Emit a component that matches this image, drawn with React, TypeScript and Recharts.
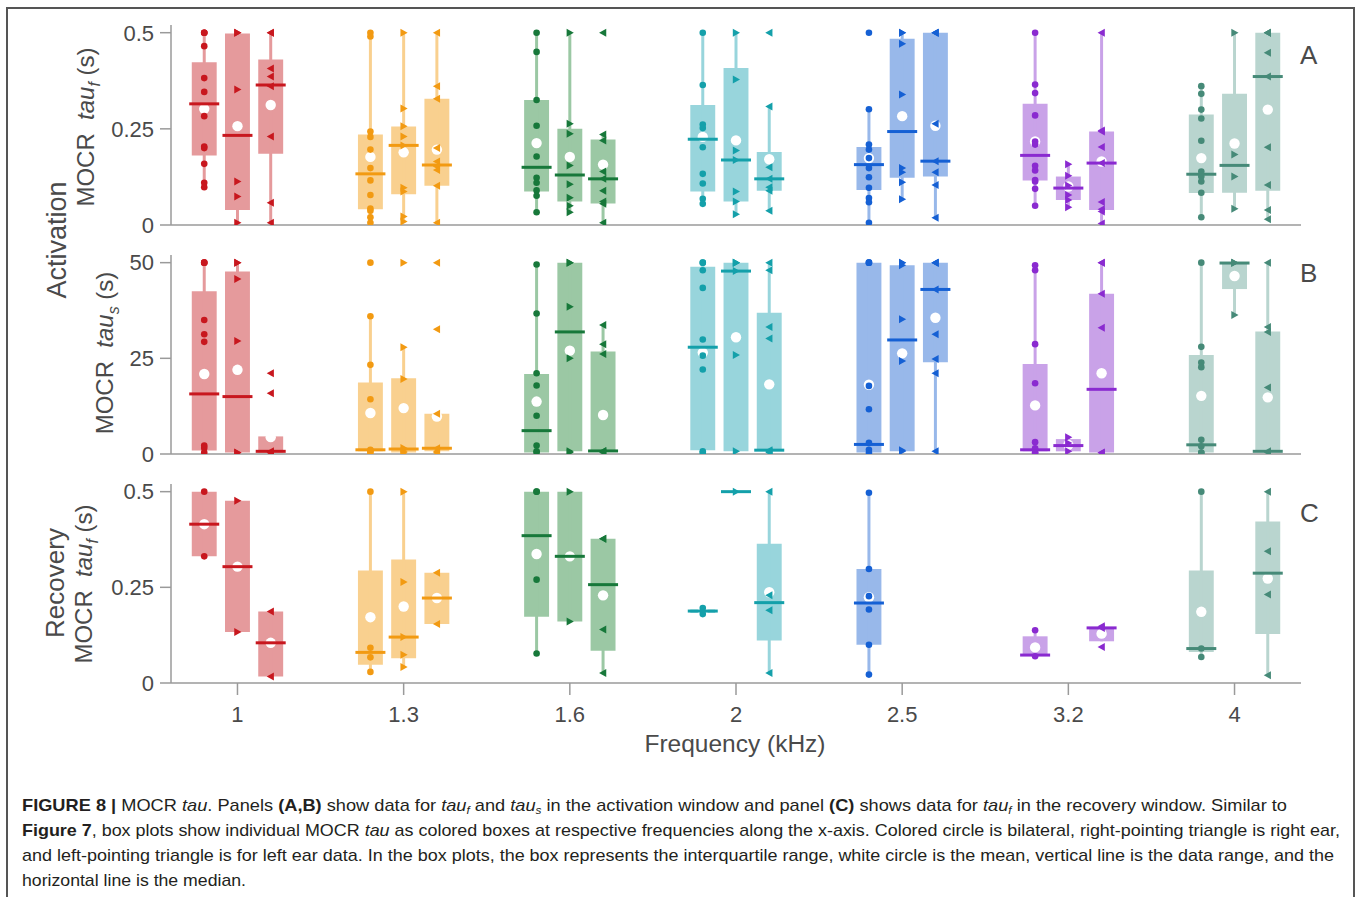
import React from 'react';
import { ComposedChart, XAxis, YAxis, Scatter, ReferenceArea, ReferenceLine } from 'recharts';

// frequencies along the x-axis (kHz)
const FREQS = ['1', '1.3', '1.6', '2', '2.5', '3.2', '4'];
const FREQ_IDX = [0, 1, 2, 3, 4, 5, 6];

// marker / median colour and box colour for each frequency
const MARK_COLORS = ['#c8171e', '#f29a12', '#17783a', '#14a0aa', '#1560d4', '#8a2ad0', '#468a78'];
const BOX_COLORS = ['#e59a9c', '#f9d08f', '#9bc8a4', '#98d5dc', '#98b8ea', '#c9a2e8', '#b9d5cf'];

// bilateral (circle), right ear (▶), left ear (◀)
const SIDES = ['bilateral', 'right', 'left'];

// box stats per frequency: [whisker lo, q1, median, q3, whisker hi, mean]
type Stat = number[] | null;

// ---- A: activation tau_f (s)
const A_BIL: Stat[] = [
  [0.1, 0.181, 0.315, 0.423, 0.5, 0.302],
  [0.006, 0.041, 0.133, 0.235, 0.5, 0.177],
  [0.033, 0.087, 0.15, 0.325, 0.5, 0.213],
  [0.055, 0.087, 0.223, 0.312, 0.5, 0.229],
  [0.006, 0.091, 0.157, 0.203, 0.301, 0.174],
  [0.05, 0.116, 0.181, 0.315, 0.5, 0.217],
  [0.02, 0.083, 0.132, 0.287, 0.361, 0.174],
];
const A_RIGHT: Stat[] = [
  [0.006, 0.039, 0.233, 0.498, 0.5, 0.257],
  [0.006, 0.08, 0.207, 0.256, 0.5, 0.189],
  [0.03, 0.061, 0.13, 0.25, 0.5, 0.177],
  [0.028, 0.061, 0.169, 0.408, 0.5, 0.22],
  [0.067, 0.123, 0.243, 0.484, 0.5, 0.283],
  [0.046, 0.065, 0.096, 0.126, 0.158, 0.1],
  [0.042, 0.084, 0.155, 0.341, 0.5, 0.212],
];
const A_LEFT: Stat[] = [
  [0.006, 0.185, 0.364, 0.43, 0.5, 0.312],
  [0.006, 0.102, 0.156, 0.328, 0.5, 0.196],
  [0.006, 0.056, 0.12, 0.222, 0.235, 0.157],
  [0.037, 0.089, 0.12, 0.19, 0.308, 0.171],
  [0.019, 0.126, 0.166, 0.5, 0.5, 0.258],
  [0.004, 0.039, 0.161, 0.243, 0.5, 0.165],
  [0.015, 0.089, 0.386, 0.5, 0.5, 0.3],
];
const A_BIL_PTS = [
  [0.5, 0.5, 0.5, 0.465, 0.382, 0.346, 0.283, 0.204, 0.2, 0.159, 0.11, 0.098],
  [0.5, 0.49, 0.243, 0.229, 0.196, 0.148, 0.116, 0.078, 0.043, 0.037, 0.02, 0.006],
  [0.5, 0.45, 0.325, 0.258, 0.178, 0.123, 0.11, 0.09, 0.076, 0.033],
  [0.5, 0.364, 0.261, 0.252, 0.202, 0.133, 0.108, 0.068, 0.055],
  [0.5, 0.301, 0.209, 0.196, 0.174, 0.148, 0.124, 0.097, 0.07, 0.059, 0.006],
  [0.5, 0.365, 0.343, 0.285, 0.217, 0.209, 0.154, 0.142, 0.117, 0.113, 0.094, 0.05],
  [0.361, 0.341, 0.3, 0.277, 0.219, 0.139, 0.126, 0.113, 0.084, 0.02],
];
const A_RIGHT_PTS = [
  [0.5, 0.5, 0.352, 0.113, 0.074, 0.006],
  [0.5, 0.303, 0.257, 0.23, 0.207, 0.097, 0.087, 0.022, 0.009],
  [0.5, 0.263, 0.237, 0.155, 0.106, 0.071, 0.05, 0.033],
  [0.5, 0.378, 0.194, 0.169, 0.087, 0.061, 0.028],
  [0.5, 0.5, 0.471, 0.339, 0.148, 0.137, 0.111, 0.067],
  [0.158, 0.128, 0.103, 0.078, 0.065, 0.046],
  [0.5, 0.183, 0.126, 0.042],
];
const A_LEFT_PTS = [
  [0.5, 0.5, 0.407, 0.386, 0.361, 0.23, 0.058, 0.006],
  [0.5, 0.361, 0.328, 0.2, 0.165, 0.152, 0.143, 0.102, 0.006],
  [0.5, 0.235, 0.22, 0.139, 0.12, 0.089, 0.061, 0.055, 0.006],
  [0.5, 0.308, 0.15, 0.12, 0.098, 0.089, 0.037],
  [0.5, 0.5, 0.5, 0.263, 0.166, 0.137, 0.104, 0.019],
  [0.5, 0.246, 0.243, 0.203, 0.161, 0.06, 0.041, 0.035, 0.004],
  [0.5, 0.5, 0.5, 0.448, 0.386, 0.202, 0.104, 0.039, 0.015],
];

// ---- B: activation tau_s (s)
const B_BIL: Stat[] = [
  [0.4, 0.9, 15.7, 42.5, 50, 20.9],
  [0.3, 0.7, 1.1, 18.7, 36, 10.7],
  [0.4, 0.4, 6.1, 20.9, 49.5, 13.7],
  [0.3, 1.0, 27.9, 48.9, 50, 26.5],
  [0.3, 0.4, 2.5, 50, 50, 18.1],
  [0.3, 0.7, 1.1, 23.5, 49.3, 12.7],
  [0.3, 0.4, 2.4, 25.9, 50, 15.2],
];
const B_RIGHT: Stat[] = [
  [0.4, 0.4, 15.0, 47.7, 50, 22],
  [0.3, 0.4, 1.3, 19.8, 27.9, 12],
  [0.4, 0.7, 31.9, 50, 50, 27],
  [0.4, 0.7, 47.8, 50, 50, 30.5],
  [0.4, 0.7, 29.8, 49.3, 50, 26.3],
  [0.7, 0.7, 2.2, 3.9, 4.4, 2.4],
  [36.3, 43.1, 49.9, 50, 50, 46.5],
];
const B_LEFT: Stat[] = [
  [0.4, 0.4, 0.7, 4.6, 4.6, 4.4],
  [0.3, 0.7, 1.5, 10.5, 10.5, 9.8],
  [0.4, 0.7, 0.8, 26.8, 33.7, 10.2],
  [0.4, 1.0, 1.0, 36.9, 50, 18.2],
  [0.7, 24, 43, 50, 50, 35.6],
  [0.3, 0.4, 16.9, 41.9, 50, 21.1],
  [0.4, 0.7, 0.7, 32, 50, 14.8],
];
const B_BIL_PTS = [
  [50, 50, 50, 35, 31.3, 29.3, 2.2, 1.6, 0.4],
  [50, 36, 23.3, 14.3, 1.1, 0.7, 0.3],
  [49.5, 36.7, 21.1, 17.9, 10, 2.2, 0.7, 0.4],
  [50, 50, 48, 43.4, 29.9, 25.7, 22.1, 0.7, 0.3],
  [50, 50, 50, 17.8, 11.7, 2.9, 1.1, 0.3],
  [49.3, 48, 28.7, 18.5, 3.1, 1.5, 0.4, 0.3],
  [50, 28, 23.9, 22.7, 3.7, 2, 0.4, 0.3],
];
const B_RIGHT_PTS = [
  [50, 50, 45.7, 29.5, 0.4, 0.3],
  [50, 27.9, 19.6, 1.6, 0.7, 0.3],
  [50, 50, 38.5, 25, 0.7, 0.4],
  [50, 50, 50, 47.8, 25.9, 0.7],
  [50, 50, 49.3, 35.2, 24.3, 1, 0.7],
  [4.4, 2.9, 0.7],
  [50, 50, 50, 36.3],
];
const B_LEFT_PTS = [
  [21.1, 15.9, 0.7, 0.4, 0.3],
  [50, 32.6, 10.5, 1.5, 0.7, 0.3],
  [33.7, 28.7, 26.1, 0.8, 0.7, 0.4],
  [50, 48, 33.2, 30.2, 1, 0.7, 0.4],
  [50, 50, 50, 43, 31.3, 24.8, 21.1, 0.7],
  [50, 50, 41.9, 33, 0.4, 0.3],
  [50, 33.2, 31.9, 17.4, 0.7, 0.4],
];

// ---- C: recovery tau_f (s)
const C_BIL: Stat[] = [
  [0.331, 0.331, 0.415, 0.5, 0.5, 0.415],
  [0.029, 0.048, 0.08, 0.294, 0.5, 0.172],
  [0.077, 0.173, 0.385, 0.5, 0.5, 0.337],
  [0.18, 0.183, 0.188, 0.192, 0.196, 0.188],
  [0.022, 0.1, 0.209, 0.298, 0.497, 0.224],
  [0.07, 0.072, 0.073, 0.122, 0.138, 0.093],
  [0.068, 0.081, 0.09, 0.294, 0.5, 0.186],
];
const C_RIGHT: Stat[] = [
  [0.133, 0.133, 0.304, 0.476, 0.476, 0.304],
  [0.042, 0.065, 0.12, 0.323, 0.5, 0.2],
  [0.161, 0.161, 0.331, 0.5, 0.5, 0.331],
  [0.5, 0.5, 0.5, 0.5, 0.5, 0.5],
  null,
  null,
  null,
];
const C_LEFT: Stat[] = [
  [0.017, 0.017, 0.105, 0.187, 0.187, 0.105],
  [0.154, 0.154, 0.222, 0.288, 0.288, 0.222],
  [0.026, 0.084, 0.257, 0.377, 0.377, 0.229],
  [0.026, 0.111, 0.21, 0.364, 0.5, 0.237],
  null,
  [0.109, 0.109, 0.144, 0.144, 0.148, 0.129],
  [0.02, 0.128, 0.287, 0.422, 0.5, 0.273],
];
const C_BIL_PTS = [
  [0.5, 0.331],
  [0.5, 0.092, 0.067, 0.029],
  [0.5, 0.5, 0.27, 0.077],
  [0.196, 0.18],
  [0.497, 0.298, 0.227, 0.192, 0.1, 0.022],
  [0.138, 0.07],
  [0.5, 0.09, 0.068],
];
const C_RIGHT_PTS = [
  [0.476, 0.133],
  [0.5, 0.264, 0.12, 0.074, 0.042],
  [0.5, 0.161],
  [0.5],
  [],
  [],
  [],
];
const C_LEFT_PTS = [
  [0.187, 0.017],
  [0.288, 0.154],
  [0.377, 0.377, 0.14, 0.026],
  [0.5, 0.229, 0.19, 0.026],
  [],
  [0.148, 0.144, 0.094],
  [0.5, 0.344, 0.231, 0.02],
];

const TAU_TICKS = [0, 0.25, 0.5];
const TAU_S_TICKS = [0, 25, 50];

const SIDE_OFFSET = [-0.2, 0, 0.2];
const BOX_HALF = 0.075;
const FONT = "'Liberation Sans', Arial, sans-serif";
const AXIS_GREY = '#9a9a9a';
const TEXT_GREY = '#4a4a4a';

const markerShape = (side: number, color: string) => (p: any) => {
  const { cx, cy } = p;
  if (cx == null || cy == null) return <g />;
  if (side === 0) return <circle cx={cx} cy={cy} r={3.3} fill={color} />;
  if (side === 1)
    return <polygon points={`${cx - 3.2},${cy - 4} ${cx + 4},${cy} ${cx - 3.2},${cy + 4}`} fill={color} />;
  return <polygon points={`${cx + 3.2},${cy - 4} ${cx - 4},${cy} ${cx + 3.2},${cy + 4}`} fill={color} />;
};

// median drawn as a short horizontal bar marker centred on the box
const medianShape = (color: string) => (p: any) =>
  p.cx == null ? <g /> : <line x1={p.cx - 15} x2={p.cx + 15} y1={p.cy} y2={p.cy} stroke={color} strokeWidth={3} />;

const meanShape = (p: any) =>
  p.cx == null ? <g /> : <circle cx={p.cx} cy={p.cy} r={5.2} fill="#ffffff" />;

function Panel(props: {
  top: number;
  height: number;
  marginTop: number;
  axisH: number;
  domain: number[];
  yTicks: number[];
  stats: Stat[][];
  points: number[][][];
  showX: boolean;
}) {
  const { top, height, marginTop, axisH, domain, yTicks, stats, points, showX } = props;
  const areas: React.ReactNode[] = [];
  const whiskers: React.ReactNode[] = [];
  const means: { x: number; y: number }[] = [];
  const medians: { x: number; y: number }[][] = FREQ_IDX.map(() => []);
  const scatters: React.ReactNode[] = [];

  SIDES.forEach((side, s) => {
    FREQ_IDX.forEach((fi) => {
      const cx = fi + SIDE_OFFSET[s];
      const st = stats[s][fi];
      if (st) {
        const [lo, q1, med, q3, hi, mean] = st;
        if (q3 > q1)
          areas.push(
            <ReferenceArea
              key={`a${s}${fi}`}
              x1={cx - BOX_HALF}
              x2={cx + BOX_HALF}
              y1={q1}
              y2={q3}
              fill={BOX_COLORS[fi]}
              fillOpacity={1}
              stroke="none"
              ifOverflow="visible"
            />
          );
        if (hi > lo)
          whiskers.push(
            <ReferenceLine
              key={`w${s}${fi}`}
              segment={[{ x: cx, y: lo }, { x: cx, y: hi }]}
              stroke={BOX_COLORS[fi]}
              strokeWidth={3}
              ifOverflow="visible"
            />
          );
        medians[fi].push({ x: cx, y: med });
        means.push({ x: cx, y: mean });
      }
      const pts = points[s][fi];
      if (pts.length)
        scatters.push(
          <Scatter
            key={`p${s}${fi}`}
            data={pts.map((y) => ({ x: cx, y }))}
            shape={markerShape(s, MARK_COLORS[fi])}
            isAnimationActive={false}
          />
        );
    });
  });

  return (
    <div style={{ position: 'absolute', left: 0, top }}>
      <ComposedChart width={1358} height={height} margin={{ top: marginTop, right: 57, bottom: 0, left: 111 }}>
        <XAxis
          type="number"
          dataKey="x"
          domain={[-0.4, 6.4]}
          ticks={FREQ_IDX}
          interval={0}
          allowDataOverflow
          height={axisH}
          stroke={AXIS_GREY}
          strokeWidth={1.5}
          tickSize={12}
          tickMargin={11}
          tickFormatter={(v: number) => FREQS[v]}
          tick={showX ? { fill: TEXT_GREY, fontSize: 22, fontFamily: FONT } : false}
        />
        <YAxis
          type="number"
          dataKey="y"
          domain={domain}
          ticks={yTicks}
          allowDataOverflow
          width={60}
          stroke={AXIS_GREY}
          strokeWidth={1.5}
          tickSize={11}
          tickMargin={6}
          tick={{ fill: TEXT_GREY, fontSize: 22, fontFamily: FONT }}
        />
        {areas}
        {whiskers}
        <Scatter data={means} shape={meanShape} isAnimationActive={false} />
        {FREQ_IDX.map((fi) => (
          <Scatter key={`m${fi}`} data={medians[fi]} shape={medianShape(MARK_COLORS[fi])} isAnimationActive={false} />
        ))}
        {scatters}
      </ComposedChart>
    </div>
  );
}

type Seg = { t: string; b?: boolean; i?: boolean; sub?: boolean };

const CAPTION: Seg[][] = [
  [
    { t: 'FIGURE 8 |', b: true },
    { t: ' MOCR ' },
    { t: 'tau', i: true },
    { t: '. Panels ' },
    { t: '(A,B)', b: true },
    { t: ' show data for ' },
    { t: 'tau', i: true },
    { t: 'f', i: true, sub: true },
    { t: ' and ' },
    { t: 'tau', i: true },
    { t: 's', i: true, sub: true },
    { t: ' in the activation window and panel ' },
    { t: '(C)', b: true },
    { t: ' shows data for ' },
    { t: 'tau', i: true },
    { t: 'f', i: true, sub: true },
    { t: ' in the recovery window. Similar to' },
  ],
  [
    { t: 'Figure 7', b: true },
    { t: ', box plots show individual MOCR ' },
    { t: 'tau', i: true },
    { t: ' as colored boxes at respective frequencies along the x-axis. Colored circle is bilateral, right-pointing triangle is right ear,' },
  ],
  [
    {
      t: 'and left-pointing triangle is for left ear data. In the box plots, the box represents the interquartile range, white circle is the mean, vertical line is the data range, and the',
    },
  ],
  [{ t: 'horizontal line is the median.' }],
];
const CAPTION_WIDTHS = [1265, 1318, 1312, 224];

function segSpans(segs: Seg[], subSize: number, subDy: number) {
  let shifted = false;
  return segs.map((sg, k) => {
    let dy = 0;
    if (sg.sub && !shifted) {
      dy = subDy;
      shifted = true;
    } else if (!sg.sub && shifted) {
      dy = -subDy;
      shifted = false;
    }
    return (
      <tspan
        key={k}
        dy={dy || undefined}
        fontWeight={sg.b ? 'bold' : undefined}
        fontStyle={sg.i ? 'italic' : undefined}
        fontSize={sg.sub ? subSize : undefined}
      >
        {sg.t}
      </tspan>
    );
  });
}

function AxisTitle({ x, y, sub }: { x: number; y: number; sub: string }) {
  return (
    <text transform={`translate(${x},${y}) rotate(-90)`} textAnchor="middle" fontSize={24} fill={TEXT_GREY} style={{ whiteSpace: 'pre' }}>
      {segSpans(
        [{ t: 'MOCR  ' }, { t: 'tau', i: true }, { t: sub, i: true, sub: true }, { t: ' (s)' }],
        16,
        6
      )}
    </text>
  );
}

export default function App() {
  return (
    <div
      style={{
        position: 'absolute',
        left: 0,
        top: 0,
        width: 1358,
        height: 897,
        overflow: 'hidden',
        background: '#fff',
        fontFamily: FONT,
      }}
    >
      <div
        style={{
          position: 'absolute',
          left: 6,
          top: 7,
          width: 1349,
          height: 1000,
          border: '2px solid #555',
          boxSizing: 'border-box',
        }}
      />
      <Panel top={0} height={255} marginTop={25} axisH={30} domain={[0, 0.52]} yTicks={TAU_TICKS}
        stats={[A_BIL, A_RIGHT, A_LEFT]} points={[A_BIL_PTS, A_RIGHT_PTS, A_LEFT_PTS]} showX={false} />
      <Panel top={230} height={254} marginTop={25} axisH={30} domain={[0, 52]} yTicks={TAU_S_TICKS}
        stats={[B_BIL, B_RIGHT, B_LEFT]} points={[B_BIL_PTS, B_RIGHT_PTS, B_LEFT_PTS]} showX={false} />
      <Panel top={459} height={299} marginTop={25} axisH={75} domain={[0, 0.52]} yTicks={TAU_TICKS}
        stats={[C_BIL, C_RIGHT, C_LEFT]} points={[C_BIL_PTS, C_RIGHT_PTS, C_LEFT_PTS]} showX={true} />

      <svg width={1358} height={897} style={{ position: 'absolute', left: 0, top: 0, pointerEvents: 'none' }} fontFamily={FONT}>
        <AxisTitle x={94} y={127} sub="f" />
        <AxisTitle x={113} y={353} sub="s" />
        <AxisTitle x={92} y={584} sub="f" />
        <text transform="translate(66,240) rotate(-90)" textAnchor="middle" fontSize={27} fill={TEXT_GREY}>
          Activation
        </text>
        <text transform="translate(64,583) rotate(-90)" textAnchor="middle" fontSize={26} fill={TEXT_GREY}>
          Recovery
        </text>
        <text x={1300} y={64} fontSize={26} fill={TEXT_GREY}>A</text>
        <text x={1300} y={282} fontSize={26} fill={TEXT_GREY}>B</text>
        <text x={1300} y={522} fontSize={26} fill={TEXT_GREY}>C</text>
        <text x={735} y={752} textAnchor="middle" fontSize={24.5} fill={TEXT_GREY}>
          Frequency (kHz)
        </text>
        {CAPTION.map((line, li) => (
          <text
            key={li}
            x={22}
            y={811 + li * 25}
            fontSize={17}
            fill="#231f20"
            textLength={CAPTION_WIDTHS[li]}
            lengthAdjust="spacingAndGlyphs"
            style={{ whiteSpace: 'pre' }}
          >
            {segSpans(line, 11, 3)}
          </text>
        ))}
      </svg>
    </div>
  );
}
